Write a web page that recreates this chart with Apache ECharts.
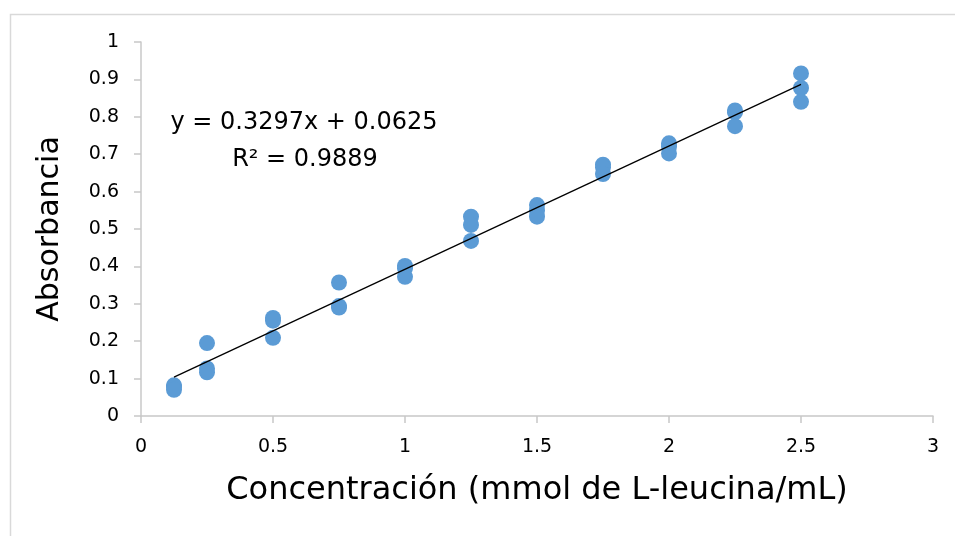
<!DOCTYPE html>
<html>
<head>
<meta charset="utf-8">
<script src="https://cdn.jsdelivr.net/npm/echarts@6/dist/echarts.min.js"></script>
<style>
html,body{margin:0;padding:0;background:#fff;}
#chart{width:955px;height:536px;}
</style>
</head>
<body>
<div id="chart"></div>
<script>
// Data
const concentrations = [0.125, 0.25, 0.5, 0.75, 1, 1.25, 1.5, 1.75, 2, 2.25, 2.5];
const absorbanceRep1 = [0.082, 0.195, 0.262, 0.357, 0.401, 0.533, 0.564, 0.672, 0.729, 0.817, 0.916];
const absorbanceRep2 = [0.078, 0.127, 0.255, 0.294, 0.395, 0.511, 0.549, 0.665, 0.720, 0.812, 0.877];
const absorbanceRep3 = [0.070, 0.117, 0.209, 0.290, 0.372, 0.468, 0.533, 0.647, 0.702, 0.775, 0.840];
const trendSlope = 0.3297;
const trendIntercept = 0.0625;
const trendRange = [0.125, 2.5];
const equationText = 'y = 0.3297x + 0.0625';
const r2Text = 'R² = 0.9889';
const xTitle = 'Concentración (mmol de L-leucina/mL)';
const yTitle = 'Absorbancia';

const points = [];
[absorbanceRep1, absorbanceRep2, absorbanceRep3].forEach(rep => {
  concentrations.forEach((c, i) => points.push([c, rep[i]]));
});
const trendData = trendRange.map(x => [x, trendSlope * x + trendIntercept]);

const FONT = 'DejaVu Sans';
const axisGray = '#c8c8c8';

const chart = echarts.init(document.getElementById('chart'), null, {renderer: 'canvas'});
chart.setOption({
  animation: false,
  backgroundColor: '#fff',
  grid: {left: 141, right: 22, top: 42, bottom: 120, containLabel: false},
  xAxis: {
    type: 'value', min: 0, max: 3, interval: 0.5,
    name: xTitle, nameLocation: 'middle', nameGap: 59,
    nameTextStyle: {fontFamily: FONT, fontSize: 32, color: '#000'},
    axisLine: {show: true, lineStyle: {color: axisGray, width: 1.5}},
    axisTick: {show: true, length: 7, lineStyle: {color: axisGray, width: 1.5}},
    axisLabel: {fontFamily: FONT, fontSize: 19, color: '#000', margin: 22,
      formatter: v => String(+v.toFixed(2))},
    splitLine: {show: false}
  },
  yAxis: {
    type: 'value', min: 0, max: 1, interval: 0.1,
    name: yTitle, nameLocation: 'middle', nameGap: 76,
    nameTextStyle: {fontFamily: FONT, fontSize: 30, color: '#000'},
    axisLine: {show: true, lineStyle: {color: axisGray, width: 1.5}},
    axisTick: {show: true, length: 7, lineStyle: {color: axisGray, width: 1.5}},
    axisLabel: {fontFamily: FONT, fontSize: 19, color: '#000', margin: 22,
      formatter: v => String(+v.toFixed(2))},
    splitLine: {show: false}
  },
  series: [
    {
      type: 'scatter', data: points, symbol: 'circle', symbolSize: 16,
      itemStyle: {color: '#5B9BD5', opacity: 1}, z: 2
    },
    {
      type: 'line', data: trendData, symbol: 'none',
      lineStyle: {color: '#000', width: 1.3}, z: 3
    }
  ],
  graphic: [
    {type: 'rect', left: 8, top: 12, shape: {x: 0, y: 0, width: 960, height: 540},
      style: {fill: 'none', stroke: '#d9d9d9', lineWidth: 1.5}, silent: true, z: -1},
    {type: 'text', x: 304, y: 123, style: {text: equationText, font: '24px "DejaVu Sans"',
      fill: '#000', textAlign: 'center', textVerticalAlign: 'middle'}},
    {type: 'text', x: 305, y: 160, style: {text: r2Text, font: '24px "DejaVu Sans"',
      fill: '#000', textAlign: 'center', textVerticalAlign: 'middle'}}
  ]
});
</script>
</body>
</html>
